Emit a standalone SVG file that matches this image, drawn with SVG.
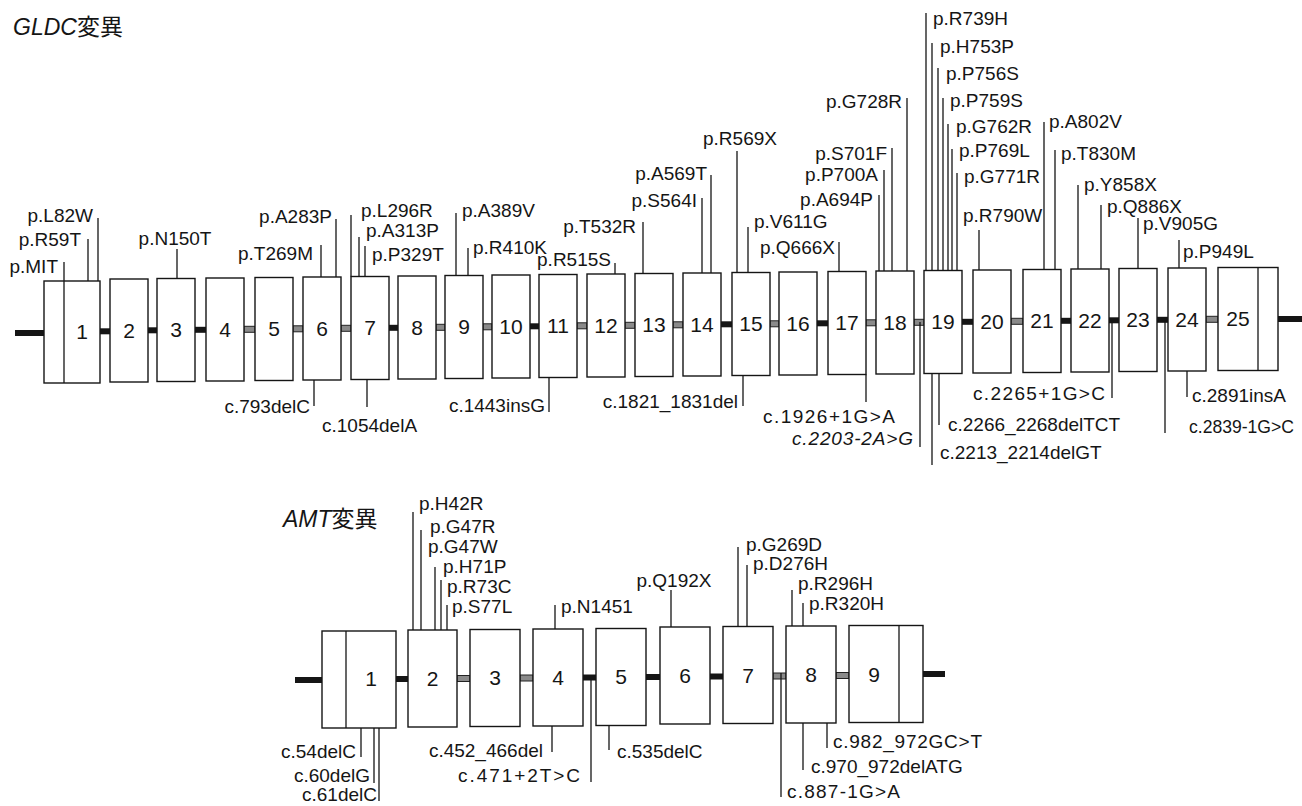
<svg xmlns="http://www.w3.org/2000/svg" width="1302" height="806" viewBox="0 0 1302 806">
<style>
.bg{fill:#fff}
.b{fill:#fff;stroke:#151515;stroke-width:1.4}
.l{stroke:#151515;stroke-width:1.3;fill:none}
.bb{fill:#151515}
.h{fill:#8a8a8a;stroke:#222;stroke-width:1}
.t{font-family:"Liberation Sans",Arial,Helvetica,sans-serif;font-size:19px;fill:#151515}
.n{font-family:"Liberation Sans",Arial,Helvetica,sans-serif;font-size:21px;fill:#151515;text-anchor:middle}
.ti{font-family:"Liberation Sans",Arial,"Noto Sans CJK JP",sans-serif;font-size:23px;fill:#151515}
.e{text-anchor:end}
.m{text-anchor:middle}
.i{font-style:italic}
</style>
<rect class="bg" x="0" y="0" width="1302" height="806"/>

<text class="ti" x="13" y="35"><tspan class="i">GLDC</tspan><tspan font-family="'Noto Sans CJK JP',sans-serif">変異</tspan></text>
<text class="ti" x="283" y="527"><tspan class="i">AMT</tspan><tspan font-family="'Noto Sans CJK JP',sans-serif">変異</tspan></text>

<!-- GLDC backbone connectors -->
<g id="gldc-backbone">
<rect class="bb" x="15" y="330" width="29" height="6"/>
<rect class="bb" x="100" y="328.3" width="10" height="6"/>
<rect class="bb" x="148" y="327.3" width="9" height="6"/>
<rect class="bb" x="195" y="326.8" width="11" height="6"/>
<rect class="h" x="244" y="326.3" width="11" height="6"/>
<rect class="h" x="293" y="325.8" width="10" height="6"/>
<rect class="h" x="341" y="325.3" width="10" height="6"/>
<rect class="bb" x="389" y="324.8" width="9" height="6"/>
<rect class="h" x="436" y="324.3" width="9" height="6"/>
<rect class="h" x="483" y="323.8" width="9" height="6"/>
<rect class="bb" x="530" y="323.3" width="9" height="6"/>
<rect class="h" x="577" y="322.8" width="10" height="6"/>
<rect class="h" x="625" y="322.3" width="10" height="6"/>
<rect class="h" x="673" y="321.8" width="10" height="6"/>
<rect class="bb" x="721" y="321.3" width="11" height="6"/>
<rect class="h" x="770" y="320.8" width="9" height="6"/>
<rect class="bb" x="817" y="320.3" width="11" height="6"/>
<rect class="h" x="866" y="319.8" width="10" height="6"/>
<rect class="h" x="914" y="319.3" width="10" height="6"/>
<rect class="bb" x="962" y="318.8" width="11" height="6"/>
<rect class="h" x="1011" y="318.3" width="12" height="6"/>
<rect class="bb" x="1061" y="317.8" width="10" height="6"/>
<rect class="bb" x="1109" y="317.3" width="10" height="6"/>
<rect class="bb" x="1157" y="316.8" width="11" height="6"/>
<rect class="h" x="1206" y="316.3" width="12" height="6"/>
<rect class="bb" x="1278" y="316" width="24" height="6"/>
</g>

<!-- GLDC exons -->
<g id="gldc-e1"><rect class="b" x="44" y="281" width="56" height="102"/><text class="n" x="82" y="339">1</text></g>
<g id="gldc-e2"><rect class="b" x="110" y="279" width="38" height="103"/><text class="n" x="129" y="337.5">2</text></g>
<g id="gldc-e3"><rect class="b" x="157" y="278.5" width="38" height="103"/><text class="n" x="176" y="337">3</text></g>
<g id="gldc-e4"><rect class="b" x="206" y="278" width="38" height="103"/><text class="n" x="225" y="336.5">4</text></g>
<g id="gldc-e5"><rect class="b" x="255" y="277.5" width="38" height="103"/><text class="n" x="274" y="336">5</text></g>
<g id="gldc-e6"><rect class="b" x="303" y="277" width="38" height="103"/><text class="n" x="322" y="335.5">6</text></g>
<g id="gldc-e7"><rect class="b" x="351" y="276.5" width="38" height="103"/><text class="n" x="370" y="335">7</text></g>
<g id="gldc-e8"><rect class="b" x="398" y="276" width="38" height="103"/><text class="n" x="417" y="334.5">8</text></g>
<g id="gldc-e9"><rect class="b" x="445" y="275.5" width="38" height="103"/><text class="n" x="464" y="334">9</text></g>
<g id="gldc-e10"><rect class="b" x="492" y="275" width="38" height="103"/><text class="n" x="511" y="333.5">10</text></g>
<g id="gldc-e11"><rect class="b" x="539" y="274.5" width="38" height="103"/><text class="n" x="558" y="333">11</text></g>
<g id="gldc-e12"><rect class="b" x="587" y="274" width="38" height="103"/><text class="n" x="606" y="332.5">12</text></g>
<g id="gldc-e13"><rect class="b" x="635" y="273.5" width="38" height="103"/><text class="n" x="654" y="332">13</text></g>
<g id="gldc-e14"><rect class="b" x="683" y="273" width="38" height="103"/><text class="n" x="702" y="331.5">14</text></g>
<g id="gldc-e15"><rect class="b" x="732" y="272.5" width="38" height="103"/><text class="n" x="751" y="331">15</text></g>
<g id="gldc-e16"><rect class="b" x="779" y="272" width="38" height="103"/><text class="n" x="798" y="330.5">16</text></g>
<g id="gldc-e17"><rect class="b" x="828" y="271.5" width="38" height="103"/><text class="n" x="847" y="330">17</text></g>
<g id="gldc-e18"><rect class="b" x="876" y="271" width="38" height="103"/><text class="n" x="895" y="329.5">18</text></g>
<g id="gldc-e19"><rect class="b" x="924" y="270.5" width="38" height="103"/><text class="n" x="943" y="329">19</text></g>
<g id="gldc-e20"><rect class="b" x="973" y="270" width="38" height="103"/><text class="n" x="992" y="328.5">20</text></g>
<g id="gldc-e21"><rect class="b" x="1023" y="269.5" width="38" height="103"/><text class="n" x="1042" y="328">21</text></g>
<g id="gldc-e22"><rect class="b" x="1071" y="269" width="38" height="103"/><text class="n" x="1090" y="327.5">22</text></g>
<g id="gldc-e23"><rect class="b" x="1119" y="268.5" width="38" height="103"/><text class="n" x="1138" y="327">23</text></g>
<g id="gldc-e24"><rect class="b" x="1168" y="268" width="38" height="103"/><text class="n" x="1187" y="326.5">24</text></g>
<g id="gldc-e25"><rect class="b" x="1218" y="267.5" width="60" height="103"/><line class="l" x1="1258" y1="267.5" x2="1258" y2="370.5"/><text class="n" x="1238" y="326">25</text></g>

<!-- GLDC mutation labels -->
<g id="gldc-labels">
<g><line class="l" x1="64" y1="262" x2="64" y2="383"/><text class="t e" x="58" y="273">p.MIT</text></g>
<g><line class="l" x1="88" y1="239" x2="88" y2="281"/><text class="t e" x="81" y="246">p.R59T</text></g>
<g><line class="l" x1="98" y1="218" x2="98" y2="281"/><text class="t e" x="93" y="222">p.L82W</text></g>
<g><line class="l" x1="177" y1="249" x2="177" y2="278.5"/><text class="t m" x="175" y="245">p.N150T</text></g>
<g><line class="l" x1="321" y1="245" x2="321" y2="277"/><text class="t e" x="313" y="260">p.T269M</text></g>
<g><line class="l" x1="336" y1="219" x2="336" y2="277"/><text class="t e" x="332" y="223">p.A283P</text></g>
<g><line class="l" x1="351" y1="215" x2="351" y2="276.5"/><text class="t" x="361" y="217">p.L296R</text></g>
<g><line class="l" x1="359" y1="237" x2="359" y2="276.5"/><text class="t" x="366" y="236.5">p.A313P</text></g>
<g><line class="l" x1="365" y1="246" x2="365" y2="276.5"/><text class="t" x="372" y="261">p.P329T</text></g>
<g><line class="l" x1="456" y1="213" x2="456" y2="275.5"/><text class="t" x="462" y="217">p.A389V</text></g>
<g><line class="l" x1="468" y1="248" x2="468" y2="275.5"/><text class="t" x="473" y="254">p.R410K</text></g>
<g><line class="l" x1="615" y1="263" x2="615" y2="274"/><text class="t e" x="611" y="266">p.R515S</text></g>
<g><line class="l" x1="643" y1="222" x2="643" y2="273.5"/><text class="t e" x="636" y="233">p.T532R</text></g>
<g><line class="l" x1="702" y1="198" x2="702" y2="273"/><text class="t e" x="697" y="207">p.S564I</text></g>
<g><line class="l" x1="711" y1="175" x2="711" y2="273"/><text class="t e" x="707" y="180">p.A569T</text></g>
<g><line class="l" x1="737" y1="151" x2="737" y2="272.5"/><text class="t m" x="740" y="145">p.R569X</text></g>
<g><line class="l" x1="748" y1="227" x2="748" y2="272.5"/><text class="t" x="754" y="228">p.V611G</text></g>
<g><line class="l" x1="839" y1="242" x2="839" y2="271.5"/><text class="t e" x="835" y="254">p.Q666X</text></g>
<g><line class="l" x1="879" y1="195" x2="879" y2="271"/><text class="t e" x="873" y="206">p.A694P</text></g>
<g><line class="l" x1="884" y1="170" x2="884" y2="271"/><text class="t e" x="878" y="181">p.P700A</text></g>
<g><line class="l" x1="892" y1="148" x2="892" y2="271"/><text class="t e" x="887" y="160">p.S701F</text></g>
<g><line class="l" x1="907" y1="98" x2="907" y2="271"/><text class="t e" x="902" y="108">p.G728R</text></g>
<g><line class="l" x1="926" y1="13" x2="926" y2="270.5"/><text class="t" x="933" y="25">p.R739H</text></g>
<g><line class="l" x1="932" y1="43" x2="932" y2="270.5"/><text class="t" x="940" y="53">p.H753P</text></g>
<g><line class="l" x1="938" y1="68" x2="938" y2="270.5"/><text class="t" x="946" y="80">p.P756S</text></g>
<g><line class="l" x1="943" y1="98" x2="943" y2="270.5"/><text class="t" x="950" y="107">p.P759S</text></g>
<g><line class="l" x1="948" y1="124" x2="948" y2="270.5"/><text class="t" x="956" y="133">p.G762R</text></g>
<g><line class="l" x1="952" y1="149" x2="952" y2="270.5"/><text class="t" x="959" y="157">p.P769L</text></g>
<g><line class="l" x1="957" y1="173" x2="957" y2="270.5"/><text class="t" x="964" y="183">p.G771R</text></g>
<g><line class="l" x1="979" y1="230" x2="979" y2="270"/><text class="t" x="963" y="222">p.R790W</text></g>
<g><line class="l" x1="1044" y1="122" x2="1044" y2="269.5"/><text class="t" x="1049" y="128">p.A802V</text></g>
<g><line class="l" x1="1055" y1="150" x2="1055" y2="269.5"/><text class="t" x="1061" y="160">p.T830M</text></g>
<g><line class="l" x1="1078" y1="185" x2="1078" y2="269"/><text class="t" x="1084" y="191">p.Y858X</text></g>
<g><line class="l" x1="1101" y1="205" x2="1101" y2="269"/><text class="t" x="1107" y="213">p.Q886X</text></g>
<g><line class="l" x1="1138" y1="218" x2="1138" y2="268.5"/><text class="t" x="1143" y="230">p.V905G</text></g>
<g><line class="l" x1="1179" y1="240" x2="1179" y2="268"/><text class="t" x="1183" y="258">p.P949L</text></g>

<g><line class="l" x1="314" y1="380" x2="314" y2="406"/><text class="t e" x="310" y="413">c.793delC</text></g>
<g><line class="l" x1="367" y1="379.5" x2="367" y2="407"/><text class="t" x="322" y="432">c.1054delA</text></g>
<g><line class="l" x1="549" y1="377.5" x2="549" y2="412"/><text class="t e" x="545" y="412">c.1443insG</text></g>
<g><line class="l" x1="743" y1="376" x2="743" y2="406"/><text class="t e" x="738" y="408">c.1821_1831del</text></g>
<g><line class="l" x1="866" y1="374.5" x2="866" y2="402"/><text class="t" x="763" y="423" textLength="132" lengthAdjust="spacing">c.1926+1G&gt;A</text></g>
<g><line class="l" x1="920" y1="322" x2="920" y2="447"/><text class="t e i" x="913" y="445" textLength="121" lengthAdjust="spacing">c.2203-2A&gt;G</text></g>
<g><line class="l" x1="932" y1="373.5" x2="932" y2="465"/><text class="t" x="940" y="459">c.2213_2214delGT</text></g>
<g><line class="l" x1="939" y1="373.5" x2="939" y2="425"/><text class="t" x="948" y="431">c.2266_2268delTCT</text></g>
<g><line class="l" x1="1112" y1="320" x2="1112" y2="398"/><text class="t e" x="1105" y="400" textLength="132" lengthAdjust="spacing">c.2265+1G&gt;C</text></g>
<g><line class="l" x1="1187" y1="371" x2="1187" y2="397"/><text class="t" x="1192" y="402">c.2891insA</text></g>
<g><line class="l" x1="1165" y1="319" x2="1165" y2="433"/><text class="t" x="1189" y="433" textLength="105" lengthAdjust="spacingAndGlyphs">c.2839-1G&gt;C</text></g>
</g>

<!-- AMT backbone connectors -->
<g id="amt-backbone">
<rect class="bb" x="295" y="677" width="27" height="6"/>
<rect class="bb" x="396" y="676" width="12" height="6"/>
<rect class="h" x="457" y="675.5" width="13" height="6"/>
<rect class="h" x="520" y="675" width="13" height="6"/>
<rect class="bb" x="583" y="674.5" width="13" height="6"/>
<rect class="bb" x="646" y="674" width="14" height="6"/>
<rect class="bb" x="710" y="673.5" width="13" height="6"/>
<rect class="h" x="773" y="673" width="13" height="6"/>
<rect class="h" x="836" y="672.5" width="13" height="6"/>
<rect class="bb" x="923" y="671" width="22" height="6"/>
</g>

<!-- AMT exons -->
<g id="amt-e1"><rect class="b" x="322" y="631" width="74" height="97"/><line class="l" x1="346" y1="631" x2="346" y2="728"/><text class="n" x="371" y="686">1</text></g>
<g id="amt-e2"><rect class="b" x="408" y="630" width="49" height="97"/><text class="n" x="432.5" y="685.5">2</text></g>
<g id="amt-e3"><rect class="b" x="470" y="629.5" width="50" height="97"/><text class="n" x="495" y="685">3</text></g>
<g id="amt-e4"><rect class="b" x="533" y="629" width="50" height="97"/><text class="n" x="558" y="684.5">4</text></g>
<g id="amt-e5"><rect class="b" x="596" y="628.5" width="50" height="97"/><text class="n" x="621" y="684">5</text></g>
<g id="amt-e6"><rect class="b" x="660" y="627" width="50" height="97"/><text class="n" x="685" y="683">6</text></g>
<g id="amt-e7"><rect class="b" x="723" y="626.5" width="50" height="97"/><text class="n" x="748" y="682.5">7</text></g>
<g id="amt-e8"><rect class="b" x="786" y="626" width="50" height="97"/><text class="n" x="811" y="682">8</text></g>
<g id="amt-e9"><rect class="b" x="849" y="625.5" width="74" height="97"/><line class="l" x1="899" y1="625.5" x2="899" y2="722.5"/><text class="n" x="874" y="681.5">9</text></g>

<!-- AMT mutation labels -->
<g id="amt-labels">
<g><line class="l" x1="413" y1="512" x2="413" y2="630"/><text class="t" x="419" y="510">p.H42R</text></g>
<g><line class="l" x1="421" y1="530" x2="421" y2="630"/><text class="t" x="430" y="533">p.G47R</text></g>
<g><text class="t" x="428" y="553">p.G47W</text></g>
<g><line class="l" x1="435" y1="567" x2="435" y2="630"/><text class="t" x="443" y="573">p.H71P</text></g>
<g><line class="l" x1="441" y1="580" x2="441" y2="630"/><text class="t" x="447" y="593">p.R73C</text></g>
<g><line class="l" x1="447" y1="605" x2="447" y2="630"/><text class="t" x="452" y="613">p.S77L</text></g>
<g><line class="l" x1="555" y1="605" x2="555" y2="629"/><text class="t" x="561" y="613">p.N1451</text></g>
<g><line class="l" x1="671" y1="590" x2="671" y2="627"/><text class="t m" x="674" y="587">p.Q192X</text></g>
<g><line class="l" x1="738" y1="547" x2="738" y2="626.5"/><text class="t" x="746" y="550.5">p.G269D</text></g>
<g><line class="l" x1="747" y1="565" x2="747" y2="626.5"/><text class="t" x="753" y="570">p.D276H</text></g>
<g><line class="l" x1="792" y1="590" x2="792" y2="626"/><text class="t" x="798" y="590">p.R296H</text></g>
<g><line class="l" x1="803" y1="603" x2="803" y2="626"/><text class="t" x="809" y="610">p.R320H</text></g>

<g><line class="l" x1="361" y1="728" x2="361" y2="757"/><text class="t e" x="356" y="758">c.54delC</text></g>
<g><line class="l" x1="374" y1="728" x2="374" y2="783"/><text class="t e" x="370" y="782">c.60delG</text></g>
<g><line class="l" x1="379" y1="728" x2="379" y2="801"/><text class="t e" x="377" y="801">c.61delC</text></g>
<g><line class="l" x1="552" y1="726" x2="552" y2="752"/><text class="t e" x="543" y="757">c.452_466del</text></g>
<g><line class="l" x1="591" y1="678" x2="591" y2="782"/><text class="t e" x="580" y="782" textLength="122" lengthAdjust="spacing">c.471+2T&gt;C</text></g>
<g><line class="l" x1="609" y1="725.5" x2="609" y2="750"/><text class="t" x="617" y="758">c.535delC</text></g>
<g><line class="l" x1="827" y1="723" x2="827" y2="748"/><text class="t" x="833" y="748" textLength="149" lengthAdjust="spacing">c.982_972GC&gt;T</text></g>
<g><line class="l" x1="803" y1="723" x2="803" y2="770"/><text class="t" x="811" y="773">c.970_972delATG</text></g>
<g><line class="l" x1="781" y1="673" x2="781" y2="797"/><text class="t" x="787" y="798" textLength="113" lengthAdjust="spacing">c.887-1G&gt;A</text></g>
</g>
</svg>
